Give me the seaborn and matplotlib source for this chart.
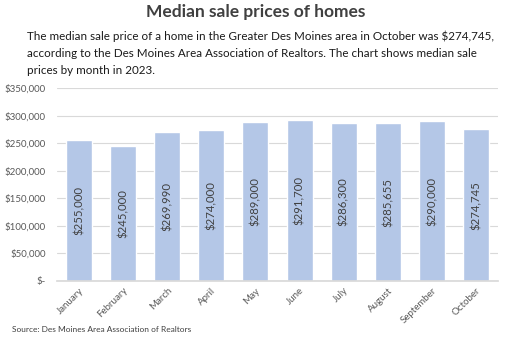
import matplotlib
matplotlib.use("Agg")
import matplotlib.pyplot as plt
import seaborn as sns
import pandas as pd
from matplotlib.ticker import FuncFormatter

months = ["January", "February", "March", "April", "May", "June",
          "July", "August", "September", "October"]
prices = [255000, 245000, 269990, 274000, 289000, 291700,
          286300, 285655, 290000, 274745]
y_ticks = [0, 50000, 100000, 150000, 200000, 250000, 300000, 350000]

df = pd.DataFrame({"month": months, "price": prices})

sns.set_theme(style="white")
plt.rcParams["font.family"] = ["Lato", "DejaVu Sans"]

fig = plt.figure(figsize=(5.12, 3.41), dpi=100)
ax = fig.add_axes([0.111, 0.176, 0.862, 0.566])

sns.barplot(data=df, x="month", y="price", color="#B4C7E7", saturation=1,
            width=0.59, ax=ax)

ax.set_ylim(0, 350000)
ax.set_yticks(y_ticks)
ax.yaxis.set_major_formatter(FuncFormatter(
    lambda v, _: "$-" if v == 0 else f"${v:,.0f}"))
ax.grid(axis="y", color="#D9D9D9", linewidth=0.8)
ax.set_axisbelow(True)
for side in ["top", "right", "left"]:
    ax.spines[side].set_visible(False)
ax.spines["bottom"].set_color("#D9D9D9")
ax.set_xlabel("")
ax.set_ylabel("")
ax.tick_params(axis="both", length=0, labelsize=7, colors="#595959")
ax.tick_params(axis="y", pad=8)
plt.setp(ax.get_xticklabels(), rotation=45, ha="right", rotation_mode="anchor")

for container in ax.containers:
    ax.bar_label(container, labels=[f"${v:,.0f}" for v in prices],
                 label_type="center", rotation=90, fontsize=8.2,
                 color="#404040")

fig.text(0.5, 1 - 12 / 341, "Median sale prices of homes", ha="center",
         va="center", fontsize=12.5, fontweight="bold", color="#404040")
body = ("The median sale price of a home in the Greater Des Moines area in October was $274,745,\n"
        "according to the Des Moines Area Association of Realtors. The chart shows median sale\n"
        "prices by month in 2023.")
fig.text(27 / 512, 1 - 31 / 341, body, ha="left", va="top", fontsize=8.4,
         color="#1a1a1a", linespacing=1.62)
fig.text(12 / 512, 1 - 330 / 341, "Source: Des Moines Area Association of Realtors",
         ha="left", va="center", fontsize=6, color="#404040")

fig.savefig("out.png", dpi=100)
